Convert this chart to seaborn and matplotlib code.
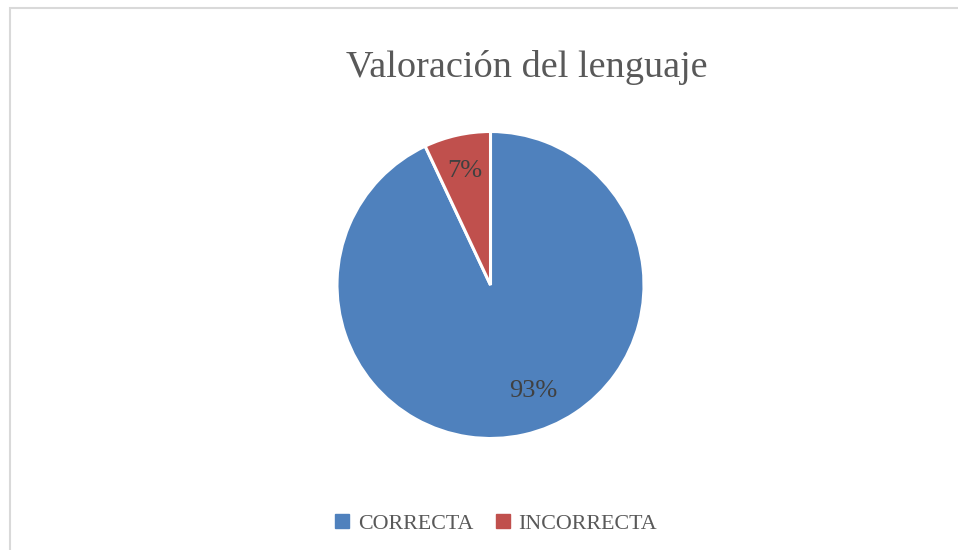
import matplotlib
matplotlib.use("Agg")
import matplotlib.pyplot as plt
import seaborn as sns
from matplotlib.patches import Rectangle, Patch

categories = ["CORRECTA", "INCORRECTA"]
shares = [93, 7]
title = "Valoración del lenguaje"

sns.set_theme(style="white")
plt.rcParams['font.family'] = ['Liberation Serif', 'DejaVu Serif']
colors = ["#4F81BD", "#C0504D"]

fig = plt.figure(figsize=(9.58, 5.5), dpi=100)

# light frame like the office chart area (runs off the right and bottom edges)
fig.patches.append(Rectangle((10 / 958, -0.05), 1.0, (542 / 550) + 0.05,
                             transform=fig.transFigure, fill=False,
                             edgecolor="#d9d9d9", linewidth=1.5))

ax = fig.add_axes([337 / 958, 111.5 / 550, 307 / 958, 307 / 550])
wedges, texts, autotexts = ax.pie(
    shares, colors=colors, startangle=90, counterclock=False,
    autopct=lambda p: f"{p:.0f}%", pctdistance=0.76,
    wedgeprops=dict(edgecolor="white", linewidth=2.2),
    textprops=dict(color="#404040", fontsize=19),
)
ax.set_xlim(-1, 1)
ax.set_ylim(-1, 1)
autotexts[0].set_position((0.28, -0.69))

fig.text(527 / 958, 473 / 550, title, ha="center", va="baseline",
         fontsize=27.5, color="#595959")

handles = [Patch(facecolor=c, edgecolor=c) for c in colors]
fig.legend(handles, categories, loc="center", bbox_to_anchor=(0.518, 0.048),
           ncol=2, frameon=False, fontsize=15.8, handlelength=0.65,
           handleheight=0.65, handletextpad=0.4, columnspacing=1.0,
           labelcolor="#595959")

fig.savefig("out.png", dpi=100)
